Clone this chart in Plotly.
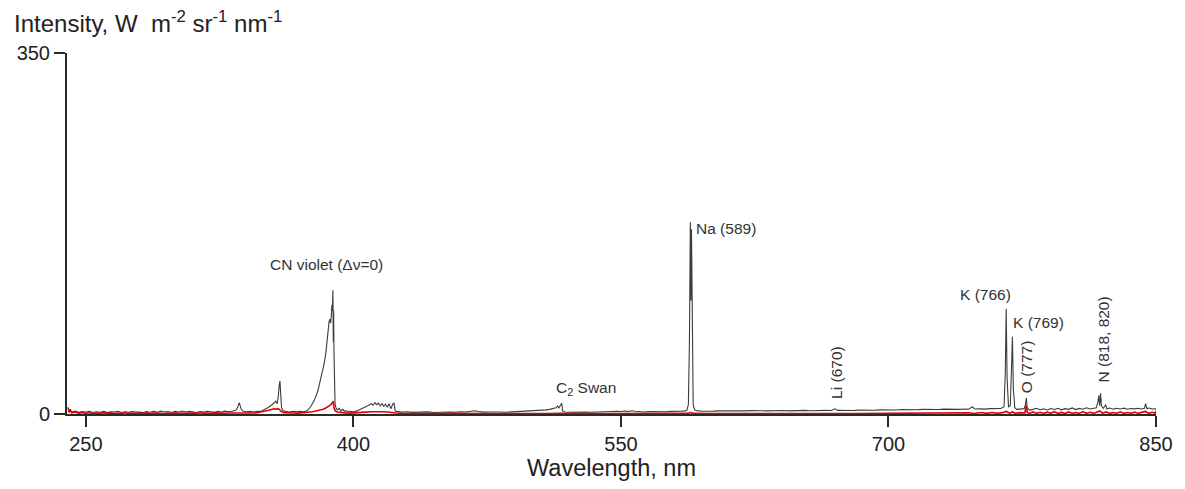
import plotly.graph_objects as go

# ---- data ----
gray_wl = [240, 242, 244, 246, 248, 250, 252, 254, 256, 258, 260, 262, 264, 266, 268, 270, 272, 274, 276, 278,
           280, 282, 284, 286, 288, 290, 292, 294, 296, 298, 300, 302, 304, 306, 308, 310, 312, 314, 316, 318,
           320, 322, 324, 326, 328, 330, 332, 334, 335, 336, 337, 338, 340, 342, 344, 346, 348, 350, 352, 354,
           355.5, 356.5, 357.2, 357.8, 358.4, 358.8, 359.2, 359.7, 360.5, 362, 364, 366, 368, 370, 372, 373.5,
           374.5, 376, 378, 380, 382, 383.5, 384.6, 385.3, 385.8, 386.3, 386.8, 387.2, 387.6, 387.9, 388.2,
           388.5, 388.7, 388.9, 389.1, 389.4, 389.7, 390.2, 391, 392, 393, 394, 395, 396, 397, 398, 400, 402,
           404, 406, 408, 410, 411, 412, 413, 414, 415, 416, 417, 418, 419, 420, 421, 422, 422.8, 423.4, 424,
           427, 430, 433, 436, 439, 442, 445, 448, 451, 454, 457, 460, 463, 466, 468, 470, 473, 476, 479, 482,
           485, 488, 491, 494, 497, 500, 503, 506, 508, 510, 512, 513.6, 514.5, 515.2, 516.0, 516.8, 517.3,
           518.5, 521, 524, 527, 530, 533, 536, 539, 542, 545, 548, 550, 552, 554, 556, 558, 560, 563, 566, 569,
           572, 575, 578, 581, 584, 586, 587, 587.8, 588.4, 588.9, 589.25, 589.55, 589.95, 590.5, 591.3, 593,
           596, 599, 602, 605, 608, 611, 614, 617, 620, 623, 626, 629, 632, 635, 638, 641, 644, 647, 650, 653,
           656, 659, 662, 665, 668, 670, 671.5, 674, 677, 680, 683, 686, 689, 692, 695, 698, 701, 704, 707, 710,
           713, 716, 719, 722, 725, 728, 731, 734, 737, 740, 743, 745, 747, 748.5, 751, 754, 757, 760, 763,
           764.8, 765.5, 766.0, 766.5, 767.3, 768.3, 769.0, 769.5, 770.0, 770.8, 772, 774, 776, 776.8, 777.3,
           777.8, 779, 781, 783, 785, 787, 789, 791, 793, 795, 797, 799, 801, 803, 805, 807, 809, 811, 813, 815,
           816.5, 817.5, 817.9, 818.4, 818.9, 819.4, 820.4, 821.3, 821.8, 822.4, 824, 826, 828, 830, 832, 834,
           836, 838, 840, 842, 843.5, 844.2, 844.8, 846, 848, 850]
gray_int = [3.5, 2.0, 2.8, 1.6, 2.4, 1.8, 2.6, 1.5, 2.2, 1.7, 2.5, 1.4, 2.1, 1.9, 2.6, 1.5, 2.2, 1.6, 2.4, 1.8,
            2.0, 1.3, 2.3, 1.7, 2.5, 1.6, 2.8, 1.9, 2.4, 1.5, 2.6, 2.0, 2.9, 1.8, 2.5, 2.0, 1.5, 2.4, 1.8, 2.7,
            2.1, 1.6, 2.5, 2.0, 2.8, 2.2, 2.6, 3.5, 6.0, 11.0, 5.0, 2.8, 2.2, 2.5, 1.9, 2.6, 2.5, 4.0, 6.0, 8.5,
            11.0, 12.5, 10.0, 16.0, 28.0, 32.0, 20.0, 6.0, 3.0, 2.4, 2.0, 2.6, 2.1, 2.5, 2.2, 3.0,
            4.0, 7.0, 13.0, 22.0, 36.0, 48.0, 60.0, 75.0, 86.0, 89.0, 92.0, 88.0, 95.0, 106.0, 100.0,
            120.0, 70.0, 100.0, 60.0, 20.0, 10.0, 6.0, 4.0, 5.5, 3.0, 4.5, 2.5, 3.2, 2.0, 2.6, 2.2, 3.0,
            4.5, 6.0, 8.0, 10.0, 8.5, 11.0, 9.0, 10.5, 8.0, 10.0, 7.5, 9.5, 6.5, 10.0, 5.0, 9.5, 10.5, 3.0, 2.5,
            1.8, 2.2, 1.6, 2.0, 1.7, 2.1, 1.5, 1.9, 1.6, 2.0, 1.7, 2.2, 1.9, 2.6, 3.2, 2.4, 1.8, 2.0, 1.6, 1.9,
            1.7, 2.0, 1.8, 2.1, 2.3, 2.5, 2.9, 3.4, 4.0, 4.5, 5.3, 6.0, 7.8, 5.8, 8.2, 10.5, 3.0,
            2.0, 1.7, 1.9, 1.6, 1.8, 1.7, 2.0, 1.8, 2.1, 2.3, 2.7, 2.4, 2.9, 2.5, 3.1, 2.6, 2.2, 2.0, 2.3, 2.1,
            2.4, 2.2, 2.5, 2.4, 2.7, 3.0, 3.8, 9.0, 70.0, 186.0, 110.0, 179.0, 65.0, 9.0, 4.0, 3.0,
            2.7, 3.1, 2.8, 3.0, 2.9, 3.2, 2.8, 3.1, 3.0, 3.3, 2.9, 3.2, 3.0, 3.3, 3.1, 3.4, 3.0, 3.3, 3.2, 3.5,
            3.1, 3.4, 3.3, 3.5, 3.4, 5.0, 3.5, 3.4, 3.7, 3.4, 3.8, 3.6, 3.9, 3.7, 4.0, 3.8, 4.1, 3.9, 4.3, 4.0,
            4.4, 4.1, 4.5, 4.2, 4.6, 4.3, 4.7, 4.4, 4.8, 4.5, 4.9, 4.6, 7.0, 4.8, 5.0, 4.7, 5.2, 5.0, 5.3,
            7.0, 40.0, 102.0, 35.0, 7.0, 8.0, 45.0, 75.0, 25.0, 6.0, 4.5, 4.8, 5.2, 9.0, 15.5,
            6.0, 3.8, 4.5, 5.5, 4.2, 5.0, 3.9, 5.3, 4.4, 5.6, 4.0, 5.2, 4.5, 5.9, 4.3, 5.4, 4.6, 6.0, 4.8, 5.5,
            6.0, 12.0, 18.0, 8.0, 20.0, 8.0, 5.5, 7.5, 9.0, 5.0, 5.8, 4.7, 5.5, 4.9, 5.7, 4.6,
            5.3, 5.0, 5.6, 4.9, 5.5, 10.0, 5.2, 5.8, 4.8, 5.0]

red_wl = [240, 240.6, 241.2, 242, 244, 246, 248, 250, 252, 254, 256, 258, 260, 262, 264, 266, 268, 270, 272,
          274, 276, 278, 280, 282, 284, 286, 288, 290, 292, 294, 296, 298, 300, 302, 304, 306, 308, 310, 312,
          314, 316, 318, 320, 322, 324, 326, 328, 330, 332, 334, 336, 338, 340, 342, 344, 346, 348, 350, 352,
          354, 355.5, 356.5, 357.5, 358.5, 359.5, 361, 363, 366, 369, 372, 375, 377, 379, 381, 383, 384.5,
          385.8, 386.8, 387.6, 388.3, 388.7, 389.1, 389.8, 391, 393, 395, 398, 401, 404, 407, 410, 413, 416,
          419, 422, 424, 427, 430, 435, 440, 445, 450, 455, 460, 465, 470, 475, 480, 485, 490, 495, 500, 505,
          510, 515, 520, 530, 540, 550, 560, 570, 580, 588, 589, 590, 600, 610, 620, 630, 640, 650, 660, 670,
          680, 690, 700, 710, 720, 730, 740, 745, 748, 752, 755, 758, 761, 764, 766, 768, 769.5, 771, 774,
          776.5, 777.2, 777.8, 779, 781, 783, 785, 787, 789, 791, 793, 795, 797, 799, 801, 803, 805, 807, 809,
          811, 813, 815, 817, 818.5, 820, 822, 824, 826, 828, 830, 832, 834, 836, 838, 840, 842, 844, 846, 848,
          849.5, 850]
red_int = [6.5, 1.5, 4.5, 1.2, 2.0, 0.6, 1.4, 0.5, 1.2, 0.4, 1.0, 0.6, 1.3, 0.5, 1.1, 0.4, 0.9, 0.6, 1.2,
           0.5, 1.0, 0.4, 0.9, 0.6, 1.1, 0.5, 0.8, 0.6, 1.0, 0.4, 0.9, 0.5, 1.1, 0.6, 0.9, 0.5, 1.0, 0.6, 0.8,
           1.2, 0.7, 1.0, 0.6, 1.1, 0.8, 1.2, 0.7, 1.0, 0.8, 1.2, 0.9, 1.0, 0.8, 1.1, 1.0, 1.3, 1.8, 2.6, 3.4,
           4.3, 5.0, 4.6, 5.2, 4.5, 2.5, 1.3, 0.9, 1.0, 0.8, 1.1, 1.5, 2.2, 2.9, 3.6, 4.6, 5.8,
           7.0, 8.3, 9.5, 11.5, 12.5, 6.0, 3.0, 2.0, 1.4, 1.1, 0.8, 0.9, 1.4, 1.8, 2.2, 2.4, 2.2,
           2.0, 1.8, 1.0, 0.6, 0.5, 0.4, 0.6, 0.4, 0.5, 0.6, 0.4, 0.7, 0.5, 0.4, 0.5, 0.4, 0.5, 0.4, 0.5, 0.4,
           0.5, 0.6, 0.4, 0.5, 0.4, 0.5, 0.4, 0.5, 0.4, 0.6, 1.5, 0.6, 0.4, 0.5, 0.4, 0.5, 0.4, 0.5, 0.4, 0.5,
           0.4, 0.5, 0.4, 0.5, 0.4, 0.6, 0.5, 1.2, 0.5, 1.4, 0.6, 1.5, 0.7, 1.3, 2.5, 0.8, 2.0, 0.7, 1.3,
           1.0, 8.0, 1.5, 0.6, 2.0, 0.6, 1.6, 0.5, 1.8, 0.7, 2.2, 0.6, 1.5, 0.5, 2.0, 0.7, 1.4, 0.6, 2.3,
           0.7, 1.6, 0.6, 1.8, 3.0, 0.8, 2.0, 0.6, 1.5, 0.7, 2.1, 0.6, 1.4, 0.7, 1.9, 0.6, 1.5, 2.5, 0.7, 1.6,
           0.8, 3.0]

x_ticks = [250, 400, 550, 700, 850]
y_ticks = [0, 350]

labels = [
    # text, x (nm), y (intensity), angle, xanchor
    ("CN violet (Δν=0)", 385.1, 144.5, 0, "center"),
    ("C<sub>2</sub> Swan", 530.3, 25.2, 0, "center"),
    ("Na (589)", 591.0, 179.4, 0, "left"),
    ("Li (670)", 670.5, 40.7, -90, "center"),
    ("K (766)", 754.4, 115.4, 0, "center"),
    ("K (769)", 768.6, 89.2, 0, "left"),
    ("O (777)", 777.8, 45.6, -90, "center"),
    ("N (818, 820)", 820.6, 71.8, -90, "center"),
]

FONT = "Liberation Sans, Arial, Helvetica, sans-serif"
AX = "#2a2a2a"

fig = go.Figure()
fig.add_trace(go.Scatter(x=gray_wl, y=gray_int, mode="lines",
                         line=dict(color="#3c3c3c", width=1.1), showlegend=False))
fig.add_trace(go.Scatter(x=red_wl, y=red_int, mode="lines",
                         line=dict(color="#e00000", width=1.6), showlegend=False))

for txt, x, y, ang, xa in labels:
    fig.add_annotation(x=x, y=y, text=txt, showarrow=False, textangle=ang, xanchor=xa,
                       yanchor="middle", font=dict(family=FONT, size=15.5, color="#333333"))

fig.add_annotation(xref="paper", yref="paper", x=-55 / 1098, y=1 + 31 / 361,
                   xanchor="left", yanchor="middle", showarrow=False,
                   text="Intensity, W  m<sup>-2</sup> sr<sup>-1</sup> nm<sup>-1</sup>",
                   font=dict(family=FONT, size=24, color="#222222"))

fig.update_layout(
    width=1185, height=489,
    margin=dict(l=67, r=20, t=53, b=75),
    paper_bgcolor="white", plot_bgcolor="white",
    font=dict(family=FONT, color="#222222"),
    xaxis=dict(range=[239.4, 850], tickvals=x_ticks, ticks="outside", ticklen=11, tickwidth=2,
               tickcolor=AX, showline=True, linecolor=AX, linewidth=2, showgrid=False, zeroline=False,
               tickfont=dict(size=20, family=FONT, color="#222222"),
               title=dict(text="Wavelength, nm", font=dict(size=23.5, family=FONT, color="#222222"), standoff=6)),
    yaxis=dict(range=[0, 350], tickvals=y_ticks, ticks="outside", ticklen=11, tickwidth=2,
               tickcolor=AX, showline=True, linecolor=AX, linewidth=2, showgrid=False, zeroline=False,
               tickfont=dict(size=20, family=FONT, color="#222222")),
)

fig.write_html("out.html")
